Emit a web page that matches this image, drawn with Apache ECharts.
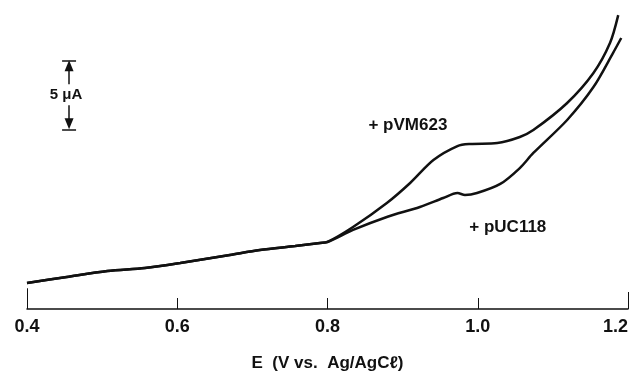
<!DOCTYPE html>
<html>
<head>
<meta charset="utf-8">
<script src="https://cdn.jsdelivr.net/npm/echarts@6/dist/echarts.min.js"></script>
<style>
  html, body { margin: 0; padding: 0; background: #fff; }
  #chart { width: 639px; height: 375px; }
</style>
</head>
<body>
<div id="chart"></div>
<script>
// potential (V) and current (uA)
const commonE = [0.400, 0.453, 0.507, 0.557, 0.604, 0.670, 0.710, 0.757, 0.790, 0.800];
const commonI = [1.88, 2.32, 2.75, 2.97, 3.33, 3.91, 4.27, 4.56, 4.78, 4.85];

const vmE = [0.834, 0.879, 0.910, 0.941, 0.973, 0.990, 1.026, 1.056, 1.074, 1.119, 1.154, 1.176, 1.187];
const vmI = [5.93, 7.67, 9.12, 10.78, 11.79, 11.94, 12.01, 12.45, 12.95, 14.91, 17.08, 19.25, 21.27];

const ucE = [0.834, 0.879, 0.923, 0.954, 0.973, 0.983, 0.999, 1.030, 1.056, 1.074, 1.119, 1.154, 1.180, 1.191];
const ucI = [5.72, 6.66, 7.38, 8.03, 8.39, 8.25, 8.39, 9.05, 10.20, 11.29, 13.68, 16.06, 18.52, 19.61];

const xTicks = [0.4, 0.6, 0.8, 1.0, 1.2];
const scaleBar = { e: 0.456, from: 13, to: 18, label: '5 μA' };

const textColor = '#111';
const font = '"Liberation Sans", Arial, sans-serif';

function pairs(xs, ys) {
  return xs.map((x, i) => [x, ys[i]]);
}

const vmData = pairs(commonE, commonI).concat(pairs(vmE, vmI));
const ucData = pairs(commonE, commonI).concat(pairs(ucE, ucI));

// arrowheads sit inside the caps, tips touching them
const tipInset = 0.4;

const chart = echarts.init(document.getElementById('chart'));

chart.setOption({
  animation: false,
  grid: { left: 27, right: 11, top: 5, bottom: 66, outerBoundsMode: 'none', containLabel: false },
  xAxis: {
    type: 'value',
    min: 0.4,
    max: 1.2,
    interval: 0.2,
    name: 'E  (V vs.  Ag/AgCℓ)',
    nameLocation: 'middle',
    nameGap: 46,
    nameTextStyle: { color: textColor, fontSize: 17, fontWeight: 'bold', fontFamily: font },
    axisLine: { lineStyle: { color: textColor, width: 1.5 } },
    axisTick: { inside: true, length: 11, lineStyle: { color: textColor, width: 1 } },
    axisLabel: {
      color: textColor,
      fontSize: 18,
      fontWeight: 'bold',
      fontFamily: font,
      margin: 9,
      alignMaxLabel: 'right',
      formatter: v => xTicks.includes(+v.toFixed(1)) ? v.toFixed(1) : ''
    },
    splitLine: { show: false }
  },
  yAxis: {
    type: 'value',
    min: 0,
    max: 22,
    show: false
  },
  series: [
    {
      name: '+ pVM623',
      type: 'line',
      data: vmData,
      smooth: 0.3,
      symbol: 'none',
      lineStyle: { color: textColor, width: 2.5 }
    },
    {
      name: '+ pUC118',
      type: 'line',
      data: ucData,
      smooth: 0.3,
      symbol: 'none',
      lineStyle: { color: textColor, width: 2.5 }
    },
    {
      // scale bar and the longer end ticks
      type: 'line',
      data: [],
      markLine: {
        silent: true,
        symbol: 'none',
        lineStyle: { color: textColor, width: 1.5, type: 'solid' },
        label: { show: false },
        data: [
          [
            { coord: [scaleBar.e, scaleBar.from + tipInset], symbol: 'triangle', symbolSize: [9, 11], symbolRotate: 180 },
            { coord: [scaleBar.e, scaleBar.to - tipInset], symbol: 'triangle', symbolSize: [9, 11] }
          ],
          [{ coord: [scaleBar.e - 0.0093, scaleBar.to] }, { coord: [scaleBar.e + 0.0093, scaleBar.to] }],
          [{ coord: [scaleBar.e - 0.0093, scaleBar.from] }, { coord: [scaleBar.e + 0.0093, scaleBar.from] }],
          [{ coord: [0.4, 0], lineStyle: { width: 1 } }, { coord: [0.4, 1.5] }],
          [{ coord: [1.2, 0], lineStyle: { width: 1 } }, { coord: [1.2, 1.23] }]
        ]
      }
    },
    {
      // text labels on top
      type: 'line',
      data: [],
      z: 10,
      markPoint: {
        symbol: 'circle',
        symbolSize: 0,
        label: {
          show: true,
          color: textColor,
          fontSize: 17,
          fontWeight: 'bold',
          fontFamily: font,
          formatter: p => p.name
        },
        data: [
          { name: '+ pVM623', coord: [0.907, 13.3] },
          { name: '+ pUC118', coord: [1.040, 5.93] },
          {
            name: scaleBar.label,
            coord: [scaleBar.e - 0.004, (scaleBar.from + scaleBar.to) / 2],
            label: { fontSize: 15, backgroundColor: '#fff', padding: [3, 1] }
          }
        ]
      }
    }
  ]
});
</script>
</body>
</html>
